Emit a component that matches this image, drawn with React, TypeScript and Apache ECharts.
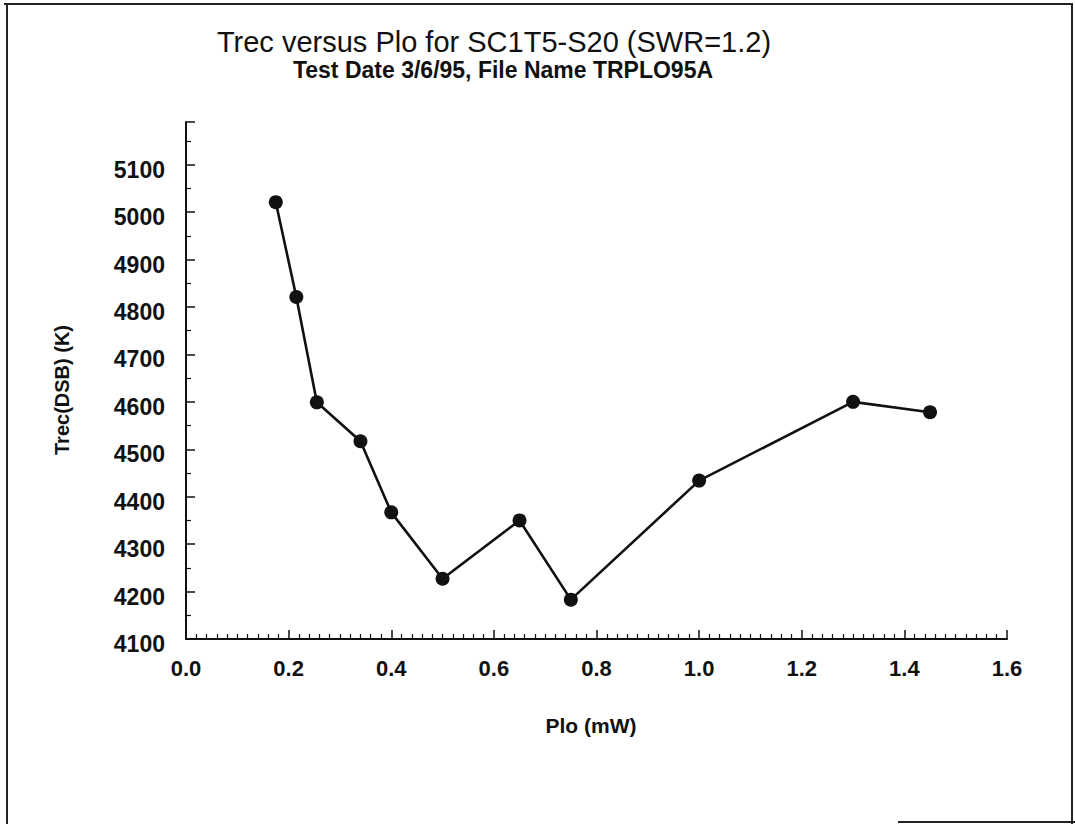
import React, { useEffect, useRef } from "react";
import * as echarts from "echarts";

const titleText = "Trec versus Plo for SC1T5-S20 (SWR=1.2)";
const subtitleText = "Test Date 3/6/95, File Name TRPLO95A";
const xAxisName = "Plo (mW)";
const yAxisName = "Trec(DSB) (K)";

const ploValues = [0.175, 0.215, 0.255, 0.34, 0.4, 0.5, 0.65, 0.75, 1.0, 1.3, 1.45];
const trecValues = [5021, 4821, 4599, 4517, 4367, 4227, 4350, 4183, 4434, 4600, 4578];

const FONT = "'Liberation Sans', Arial, Helvetica, sans-serif";

export default function App() {
  const ref = useRef<HTMLDivElement>(null);

  useEffect(() => {
    if (!ref.current) return;
    const chart = echarts.init(ref.current, undefined, { renderer: "svg" });
    const data = ploValues.map((x, i) => [x, trecValues[i]]);
    chart.setOption({
      animation: false,
      backgroundColor: "#ffffff",
      grid: { left: 186, right: 68, top: 122, bottom: 185, containLabel: false },
      xAxis: {
        type: "value",
        min: 0,
        max: 1.6,
        interval: 0.2,
        axisLine: { show: true, onZero: false, lineStyle: { color: "#111", width: 2 } },
        axisTick: { show: true, inside: true, length: 9, lineStyle: { color: "#111", width: 1.5 } },
        minorTick: { show: true, splitNumber: 10, length: 5, lineStyle: { color: "#111", width: 1.2 } },
        splitLine: { show: false },
        axisLabel: {
          margin: 18,
          fontSize: 22,
          fontWeight: "bold",
          color: "#111",
          fontFamily: FONT,
          formatter: (v: number) => v.toFixed(1),
        },
      },
      yAxis: {
        type: "value",
        min: 4100,
        max: 5190,
        interval: 100,
        axisLine: { show: true, onZero: false, lineStyle: { color: "#111", width: 2 } },
        axisTick: { show: true, inside: true, length: 9, lineStyle: { color: "#111", width: 1.5 } },
        minorTick: { show: true, splitNumber: 2, length: 5, lineStyle: { color: "#111", width: 1.2 } },
        splitLine: { show: false },
        axisLabel: {
          margin: 21,
          fontSize: 23,
          fontWeight: "bold",
          color: "#111",
          fontFamily: FONT,
          verticalAlign: "top",
          lineHeight: 10,
          formatter: (v: number) => (Math.round(v) % 100 === 0 ? String(Math.round(v)) : ""),
        },
      },
      series: [
        {
          type: "line",
          data,
          symbol: "circle",
          symbolSize: 14,
          lineStyle: { color: "#111", width: 2.6 },
          itemStyle: { color: "#111" },
        },
      ],
      graphic: [
        {
          type: "text",
          x: 494,
          y: 42,
          style: {
            text: titleText,
            fontSize: 29,
            fontFamily: FONT,
            fill: "#111",
            align: "center",
            verticalAlign: "middle",
          },
        },
        {
          type: "text",
          x: 503,
          y: 70,
          style: {
            text: subtitleText,
            fontSize: 23,
            fontWeight: "bold",
            fontFamily: FONT,
            fill: "#111",
            align: "center",
            verticalAlign: "middle",
          },
        },
        {
          type: "text",
          x: 591,
          y: 725,
          style: {
            text: xAxisName,
            fontSize: 21,
            fontWeight: "bold",
            fontFamily: FONT,
            fill: "#111",
            align: "center",
            verticalAlign: "middle",
          },
        },
        {
          type: "text",
          x: 62,
          y: 390,
          rotation: Math.PI / 2,
          style: {
            text: yAxisName,
            fontSize: 20,
            fontWeight: "bold",
            fontFamily: FONT,
            fill: "#111",
            align: "center",
            verticalAlign: "middle",
          },
        },
        { type: "line", shape: { x1: 4, y1: 4, x2: 1073, y2: 4 }, style: { stroke: "#222", lineWidth: 2 } },
        { type: "line", shape: { x1: 7, y1: 4, x2: 7, y2: 824 }, style: { stroke: "#222", lineWidth: 2 } },
        { type: "line", shape: { x1: 1072, y1: 4, x2: 1072, y2: 824 }, style: { stroke: "#222", lineWidth: 2 } },
        { type: "line", shape: { x1: 898, y1: 822, x2: 1075, y2: 822 }, style: { stroke: "#222", lineWidth: 2 } },
      ],
    });
    return () => chart.dispose();
  }, []);

  return (
    <div
      ref={ref}
      style={{ position: "fixed", left: 0, top: 0, width: 1075, height: 824, background: "#fff" }}
    />
  );
}
